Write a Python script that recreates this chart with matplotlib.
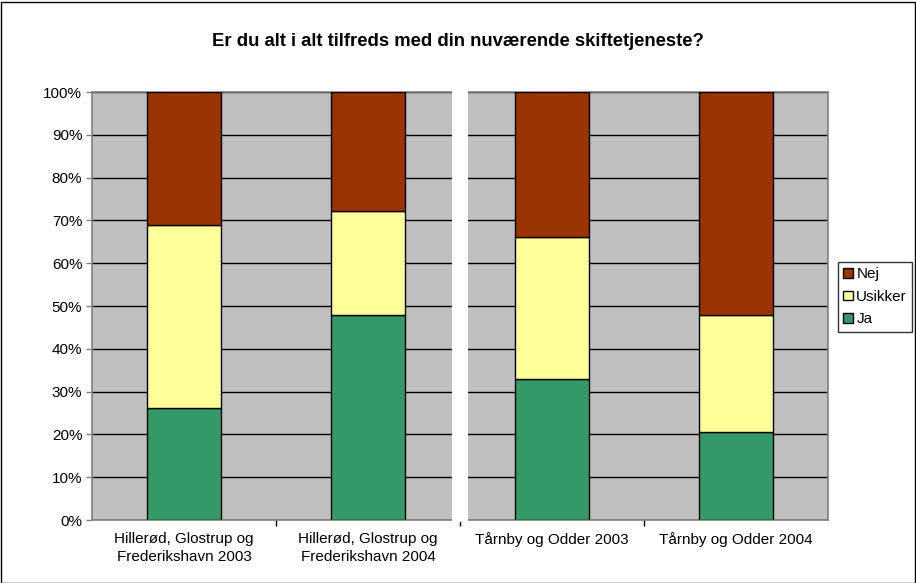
import matplotlib.pyplot as plt
import numpy as np

plt.rcParams['font.family'] = ['Liberation Sans', 'DejaVu Sans']

categories = ["Hillerød, Glostrup og\nFrederikshavn 2003",
              "Hillerød, Glostrup og\nFrederikshavn 2004",
              "Tårnby og Odder 2003",
              "Tårnby og Odder 2004"]
ja = [26.2, 47.9, 32.9, 20.6]
usikker = [42.7, 24.3, 33.2, 27.3]
nej = [31.1, 27.8, 33.9, 52.1]

W, H = 916, 583
fig = plt.figure(figsize=(W / 100, H / 100), dpi=100)
# outer chart border
fig.patches.append(plt.Rectangle((0.5 / W, 0.5 / H), 1 - 2 / W, 1 - 2 / H,
                                 transform=fig.transFigure, fill=False,
                                 edgecolor='black', linewidth=1))

ax = fig.add_axes([92 / W, 1 - 520 / H, 736 / W, 428 / H])
ax.set_facecolor('#C0C0C0')
x = np.arange(len(categories))
w = 0.4
ax.bar(x, ja, w, color='#339966', edgecolor='black', linewidth=1, label='Ja', zorder=3)
ax.bar(x, usikker, w, bottom=ja, color='#FFFF99', edgecolor='black', linewidth=1,
       label='Usikker', zorder=3)
ax.bar(x, nej, w, bottom=np.array(ja) + np.array(usikker), color='#993300',
       edgecolor='black', linewidth=1, label='Nej', zorder=3)

ax.set_xlim(-0.5, len(categories) - 0.5)
ax.set_ylim(0, 100)
ax.set_yticks(range(0, 101, 10))
ax.set_yticklabels([f"{v}%" for v in range(0, 101, 10)], fontsize=11)
ax.yaxis.grid(True, color='black', linewidth=1, zorder=1)
ax.set_axisbelow(True)
ax.tick_params(axis='y', length=4, width=1, color='#808080', pad=3)

ax.set_xticks(x)
ax.set_xticklabels(categories, fontsize=11, linespacing=1.35)
ax.tick_params(axis='x', length=0, pad=9)
ax.set_xticks(np.arange(0.5, len(categories) - 1), minor=True)
ax.tick_params(axis='x', which='minor', length=4, width=1, color='black')

for s in ax.spines.values():
    s.set_color('#808080')
    s.set_linewidth(1.2)

# white separator between the two groups, covering the frame too
ax.add_patch(plt.Rectangle((1.5 - 8 / 184, -0.004), 16 / 184, 1.008,
                           transform=ax.get_xaxis_transform(), facecolor='white',
                           edgecolor='none', clip_on=False, zorder=6))

fig.suptitle("Er du alt i alt tilfreds med din nuværende skiftetjeneste?",
             x=0.5, y=1 - 42 / H, va='center', fontsize=13.3, fontweight='bold')

handles, labels = ax.get_legend_handles_labels()
leg = fig.legend(handles[::-1], labels[::-1], loc='upper left',
                 bbox_to_anchor=(838 / W, 1 - 262 / H), fontsize=11,
                 frameon=True, fancybox=False, handlelength=0.6, handleheight=0.6,
                 handletextpad=0.25, borderpad=0.35, labelspacing=0.55,
                 borderaxespad=0)
leg.get_frame().set_edgecolor('black')
leg.get_frame().set_linewidth(1)

fig.savefig('out.png', dpi=100)
